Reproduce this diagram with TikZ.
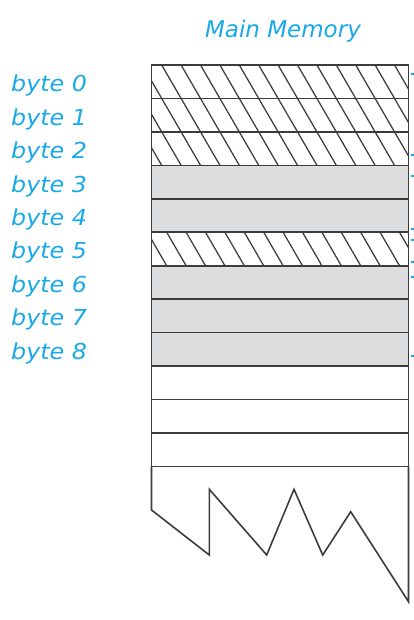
\documentclass[tikz,border=0pt]{standalone}
\usepackage{fontspec}
\newfontfamily\lblfont{DejaVu Sans}
\definecolor{txtblue}{RGB}{25,168,232}
\definecolor{cellgray}{RGB}{220,221,223}
\definecolor{edge}{RGB}{60,60,60}
\begin{document}
\begin{tikzpicture}[x=1pt,y=-1pt,
  cell/.style={draw=edge,line width=1.6pt,minimum width=257pt,minimum height=33.45pt,inner sep=0pt,outer sep=0pt,anchor=north west},
  graycell/.style={cell,fill=cellgray},
  whitecell/.style={cell,fill=white},
  hatchline/.style={draw=edge,line width=1.25pt},
  lbl/.style={text=txtblue,font=\lblfont\itshape\fontsize{22}{26}\selectfont,anchor=base west,inner sep=0pt,xscale=1.08},
  title/.style={text=txtblue,font=\lblfont\itshape\fontsize{23}{27}\selectfont,anchor=base,inner sep=0pt},
  tick/.style={draw=txtblue,line width=1.5pt}]
\useasboundingbox (0,0) rectangle (414,620);
% rows
\foreach \k/\s in {0/whitecell,1/whitecell,2/whitecell,3/graycell,4/graycell,5/whitecell,6/graycell,7/graycell,8/graycell,9/whitecell,10/whitecell,11/whitecell}{
  \node[\s] (r\k) at (151.5,{65+33.45*\k}) {};
}
% hatching rows 0-2
\begin{scope}
  \clip (r0.north west) rectangle (r2.south east);
  \foreach \i in {-5,...,13}
    \draw[hatchline] ({161.7+19.4*\i},65) -- ++(58.6,101);
\end{scope}
% hatching row 5
\begin{scope}
  \clip (r5.north west) rectangle (r5.south east);
  \foreach \i in {-2,...,13}
    \draw[hatchline] ({166.7+19.4*\i},232.25) -- ++(19.7,34);
\end{scope}
% redraw row borders over hatching
\foreach \k in {0,1,2,5}{
  \draw[draw=edge,line width=1.6pt] (r\k.north west) rectangle (r\k.south east);
}
% torn bottom
\coordinate (t0) at (r11.south west);
\coordinate (t9) at (r11.south east);
\draw[draw=edge,line width=1.6pt,line join=miter]
  (t0) -- (151.5,510) -- (209.3,555) -- (209.3,489.3) -- (266.7,555) -- (294,489.3)
  -- (322.7,555) -- (350.7,511.7) -- (408.5,601.7) -- (t9);
% labels
\node[title] (title) at (283,37.3) {Main Memory};
\foreach \k in {0,...,8}{
  \node[lbl] (b\k) at (11,{91.7+33.45*\k}) {byte \k};
}
% cut-off connector ends at the right edge
\foreach \y [count=\n] in {74,155,176,229,240,262,277,356}{
  \coordinate (c\n) at (411.3,\y);
  \coordinate (d\n) at (414,\y);
  \draw[tick] (c\n) -- (d\n);
}
\end{tikzpicture}
\end{document}
